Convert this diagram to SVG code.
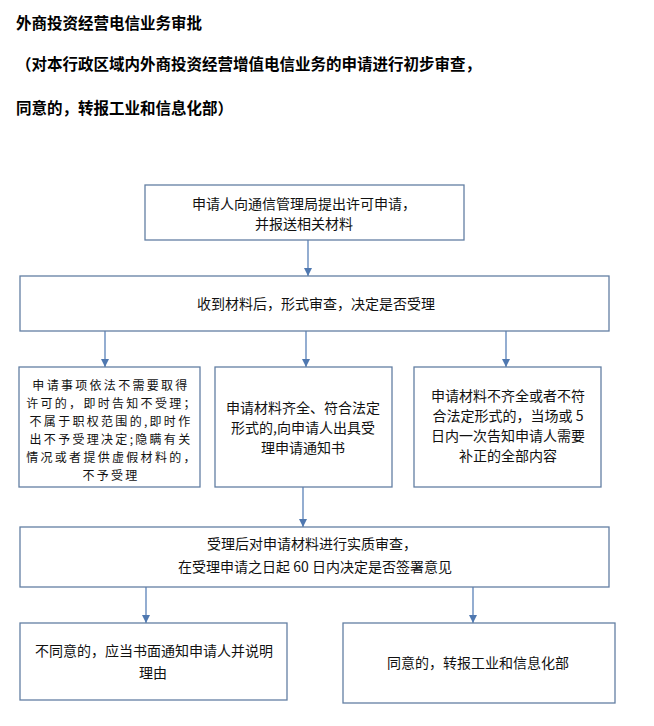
<svg xmlns="http://www.w3.org/2000/svg" width="654" height="726" viewBox="0 0 654 726">
<style>
.title{font-family:"Noto Sans CJK SC","Noto Sans",sans-serif;font-size:15.5px;font-weight:bold;fill:#000}
.t{font-family:"Noto Sans CJK SC","Noto Sans",sans-serif;font-size:14px;fill:#111;text-anchor:middle;dominant-baseline:central}
.s{font-size:12px;letter-spacing:2.3px}
.box{fill:#fff;stroke:#637fa3;stroke-width:1.3}
.conn{stroke:#5a82b8;stroke-width:1.3;fill:none}
</style>
<defs>
<marker id="arr" viewBox="0 0 10 10" refX="10" refY="5" markerWidth="8" markerHeight="8" markerUnits="userSpaceOnUse" orient="auto">
<path d="M0,0 L10,5 L0,10 z" fill="#4f78b0"/>
</marker>
</defs>
<rect width="654" height="726" fill="#fff"/>
<g id="title">
<text class="title" x="16" y="22" dominant-baseline="central">外商投资经营电信业务审批</text>
<text class="title" x="16" y="63" dominant-baseline="central">（对本行政区域内外商投资经营增值电信业务的申请进行初步审查，</text>
<text class="title" x="16" y="107" dominant-baseline="central">同意的，转报工业和信息化部）</text>
</g>
<g id="connectors">
<line class="conn" x1="308" y1="240" x2="308" y2="276" marker-end="url(#arr)"/>
<line class="conn" x1="105" y1="331" x2="105" y2="367" marker-end="url(#arr)"/>
<line class="conn" x1="306" y1="331" x2="306" y2="367" marker-end="url(#arr)"/>
<line class="conn" x1="506" y1="331" x2="506" y2="367" marker-end="url(#arr)"/>
<line class="conn" x1="303" y1="487" x2="303" y2="527" marker-end="url(#arr)"/>
<line class="conn" x1="146" y1="587" x2="146" y2="623" marker-end="url(#arr)"/>
<line class="conn" x1="473" y1="587" x2="473" y2="623" marker-end="url(#arr)"/>
</g>
<g id="n1">
<rect class="box" x="145" y="185" width="319" height="55"/>
<text class="t" x="304" y="203">申请人向通信管理局提出许可申请，</text>
<text class="t" x="304" y="223">并报送相关材料</text>
</g>
<g id="n2">
<rect class="box" x="20" y="276" width="589" height="55"/>
<text class="t" x="316" y="303">收到材料后，形式审查，决定是否受理</text>
</g>
<g id="n3">
<rect class="box" x="19" y="367" width="181" height="120"/>
<text class="t s" x="111" y="384">申请事项依法不需要取得</text>
<text class="t s" x="112" y="402">许可的，即时告知不受理；</text>
<text class="t s" x="111" y="420">不属于职权范围的,即时作</text>
<text class="t s" x="111" y="438">出不予受理决定;隐瞒有关</text>
<text class="t s" x="112" y="456">情况或者提供虚假材料的，</text>
<text class="t s" x="111" y="474">不予受理</text>
</g>
<g id="n4">
<rect class="box" x="215" y="367" width="177" height="120"/>
<text class="t" x="303" y="407">申请材料齐全、符合法定</text>
<text class="t" x="303" y="427">形式的,向申请人出具受</text>
<text class="t" x="303" y="447">理申请通知书</text>
</g>
<g id="n5">
<rect class="box" x="414" y="367" width="187" height="120"/>
<text class="t" x="508" y="395">申请材料不齐全或者不符</text>
<text class="t" x="508" y="415">合法定形式的，当场或 5</text>
<text class="t" x="508" y="435">日内一次告知申请人需要</text>
<text class="t" x="508" y="455">补正的全部内容</text>
</g>
<g id="n6">
<rect class="box" x="20" y="527" width="589" height="60"/>
<text class="t" x="312" y="543">受理后对申请材料进行实质审查，</text>
<text class="t" x="315" y="566">在受理申请之日起 60 日内决定是否签署意见</text>
</g>
<g id="n7">
<rect class="box" x="20" y="623" width="267" height="77"/>
<text class="t" x="154" y="650">不同意的，应当书面通知申请人并说明</text>
<text class="t" x="153" y="672">理由</text>
</g>
<g id="n8">
<rect class="box" x="343" y="623" width="272" height="80"/>
<text class="t" x="478" y="662">同意的，转报工业和信息化部</text>
</g>
</svg>
